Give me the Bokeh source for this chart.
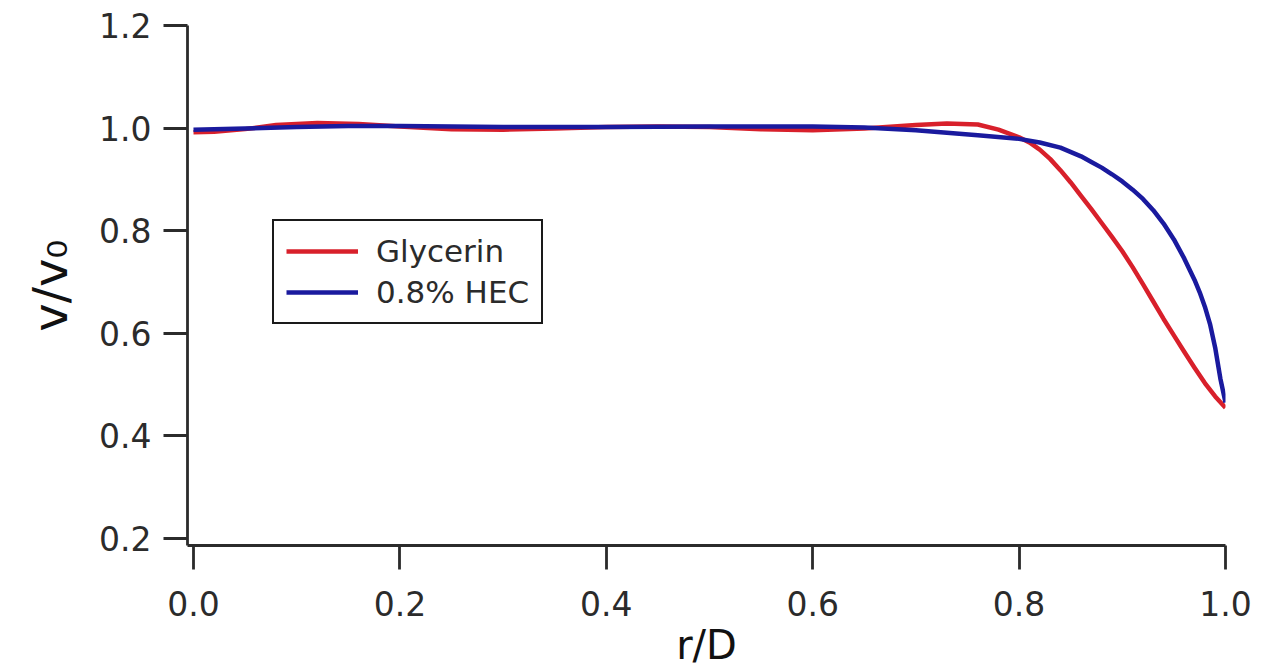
from bokeh.plotting import figure
from bokeh.models import Range1d, FixedTicker, PrintfTickFormatter, Legend, LegendItem
from bokeh.embed import file_html
from bokeh.resources import INLINE

# ---- data ----
x_gly = [0.0, 0.02, 0.05, 0.08, 0.12, 0.16, 0.2, 0.25, 0.3, 0.35, 0.4, 0.45, 0.5,
         0.55, 0.6, 0.65, 0.7, 0.73, 0.76, 0.78, 0.8, 0.81, 0.82, 0.83, 0.84, 0.85,
         0.86, 0.87, 0.88, 0.89, 0.9, 0.91, 0.92, 0.93, 0.94, 0.95, 0.96, 0.97, 0.98,
         0.99, 1.0]
v_gly = [0.992, 0.993, 0.998, 1.006, 1.010, 1.008, 1.003, 0.998, 0.997, 0.999, 1.002,
         1.003, 1.002, 0.998, 0.996, 0.999, 1.006, 1.009, 1.007, 0.997, 0.982, 0.972,
         0.958, 0.940, 0.918, 0.894, 0.868, 0.842, 0.815, 0.788, 0.760, 0.729, 0.696,
         0.662, 0.628, 0.596, 0.564, 0.533, 0.503, 0.477, 0.455]

x_hec = [0.0, 0.05, 0.1, 0.15, 0.2, 0.3, 0.4, 0.5, 0.6, 0.65, 0.7, 0.73, 0.76, 0.8,
         0.82, 0.84, 0.86, 0.87, 0.88, 0.89, 0.9, 0.91, 0.92, 0.93, 0.94, 0.95, 0.96,
         0.97, 0.975, 0.98, 0.985, 0.99, 0.995, 1.0]
v_hec = [0.997, 0.999, 1.002, 1.004, 1.004, 1.002, 1.002, 1.003, 1.003, 1.001, 0.996,
         0.991, 0.986, 0.979, 0.972, 0.962, 0.945, 0.934, 0.923, 0.910, 0.896, 0.880,
         0.862, 0.840, 0.814, 0.783, 0.746, 0.704, 0.680, 0.652, 0.618, 0.572, 0.512,
         0.465]

series_names = ["Glycerin", "0.8% HEC"]
x_ticks = [0.0, 0.2, 0.4, 0.6, 0.8, 1.0]
y_ticks = [0.2, 0.4, 0.6, 0.8, 1.0, 1.2]
x_title = "r/D"
y_title = "v/v\u2080"

RED = "#d8202b"
BLUE = "#1a1a9e"
AX = "#2b2b2b"
FONT = "DejaVu Sans"

p = figure(frame_width=1038, frame_height=520, output_backend="svg",
           toolbar_location=None,
           x_range=Range1d(-0.0058, 1.0), y_range=Range1d(0.1864, 1.2),
           min_border_left=187, min_border_top=25, min_border_right=39,
           min_border_bottom=100)
p.outline_line_color = None
p.grid.visible = False
p.background_fill_color = "white"
p.border_fill_color = "white"

r1 = p.line(x_gly, v_gly, line_color=RED, line_width=4.5, line_join="round")
r2 = p.line(x_hec, v_hec, line_color=BLUE, line_width=4.5, line_join="round")

for ax in (p.xaxis[0], p.yaxis[0]):
    ax.axis_line_color = AX
    ax.axis_line_width = 2.8
    ax.major_tick_line_color = AX
    ax.major_tick_line_width = 2.8
    ax.major_tick_out = 24
    ax.major_tick_in = 0
    ax.minor_tick_line_color = None
    ax.major_label_text_font = FONT
    ax.major_label_text_font_size = "33px"
    ax.major_label_text_color = AX
    ax.axis_label_text_font = FONT
    ax.axis_label_text_font_style = "normal"
    ax.axis_label_text_color = "#111111"
    ax.formatter = PrintfTickFormatter(format="%.1f")

p.xaxis[0].ticker = FixedTicker(ticks=x_ticks)
p.yaxis[0].ticker = FixedTicker(ticks=y_ticks)
p.xaxis[0].major_label_standoff = 21
p.yaxis[0].major_label_standoff = 12
p.xaxis[0].axis_label = x_title
p.xaxis[0].axis_label_text_font_size = "40px"
p.xaxis[0].axis_label_standoff = 3
p.yaxis[0].axis_label = y_title
p.yaxis[0].axis_label_text_font_size = "48px"
p.yaxis[0].axis_label_standoff = 18

legend = Legend(items=[LegendItem(label=series_names[0], renderers=[r1]),
                       LegendItem(label=series_names[1], renderers=[r2])],
                location=(85, 221), margin=0, padding=12, spacing=5,
                glyph_width=72, glyph_height=34, label_height=34,
                label_standoff=18,
                label_text_font=FONT, label_text_font_size="31px",
                label_text_color=AX,
                border_line_color="#1a1a1a", border_line_width=2,
                border_line_alpha=1.0,
                background_fill_color="white", background_fill_alpha=1.0)
p.add_layout(legend, "center")

open("out.html", "w").write(file_html(p, INLINE))
